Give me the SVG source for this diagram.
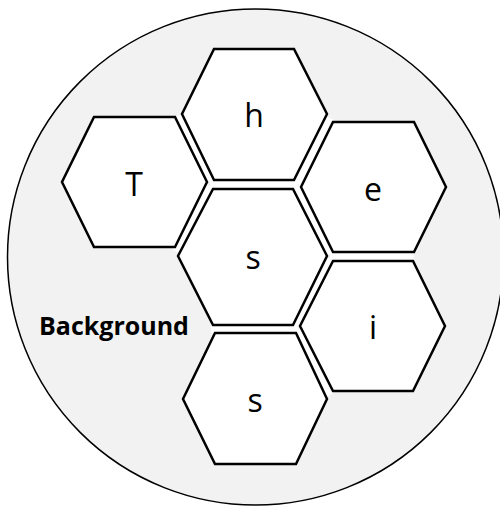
<svg xmlns="http://www.w3.org/2000/svg" width="500" height="507" viewBox="0 0 500 507">
<style>
.bg{fill:#F2F2F2;stroke:#000;stroke-width:1.5}
.hex{fill:#fff;stroke:#000;stroke-width:2.5;stroke-linejoin:miter}
.gap{stroke:#fff;stroke-width:9;stroke-linecap:butt;fill:none}
.lbl{font-family:"Open Sans","Liberation Sans",sans-serif;font-size:32px;fill:#000;text-anchor:middle}
.title{font-family:"Open Sans","Liberation Sans",sans-serif;font-size:25px;font-weight:bold;fill:#000}
</style>
<g id="background">
<circle class="bg" cx="255.5" cy="257" r="248"/>
<text class="title" x="39" y="335">Background</text>
</g>
<g id="connectors">
<line class="gap" x1="178.5" y1="115.5" x2="210.5" y2="181"/>
<line class="gap" x1="210" y1="185.5" x2="176.5" y2="251.5"/>
<line class="gap" x1="210" y1="184.5" x2="297" y2="184.5"/>
<line class="gap" x1="330" y1="118" x2="297.5" y2="183.5"/>
<line class="gap" x1="297" y1="186" x2="330" y2="254"/>
<line class="gap" x1="330" y1="258.5" x2="296.5" y2="325.5"/>
<line class="gap" x1="330" y1="256.5" x2="414" y2="256.5"/>
<line class="gap" x1="211" y1="329" x2="298" y2="329"/>
<line class="gap" x1="298" y1="329.5" x2="330" y2="395"/>
</g>
<g id="node-T">
<polygon class="hex" points="94,117 175,117 207,182 175,247 94,247 62,182"/>
<text class="lbl" x="134" y="195.5">T</text>
</g>
<g id="node-h">
<polygon class="hex" points="214,49 294,49 327,114 294,180 214,180 182,114"/>
<text class="lbl" x="254" y="127">h</text>
</g>
<g id="node-e">
<polygon class="hex" points="333,122 414,122 446,187 414,252 333,252 301,187"/>
<text class="lbl" x="373" y="200.5">e</text>
</g>
<g id="node-s1">
<polygon class="hex" points="213,189 293,189 327,256 293,325 213,325 178,256"/>
<text class="lbl" x="253" y="269">s</text>
</g>
<g id="node-i">
<polygon class="hex" points="333,261 413,261 445,326 413,391 333,391 300,326"/>
<text class="lbl" x="373" y="339">i</text>
</g>
<g id="node-s2">
<polygon class="hex" points="215,333 296,333 327,399 296,464 215,464 183,399"/>
<text class="lbl" x="255" y="411.5">s</text>
</g>
</svg>
